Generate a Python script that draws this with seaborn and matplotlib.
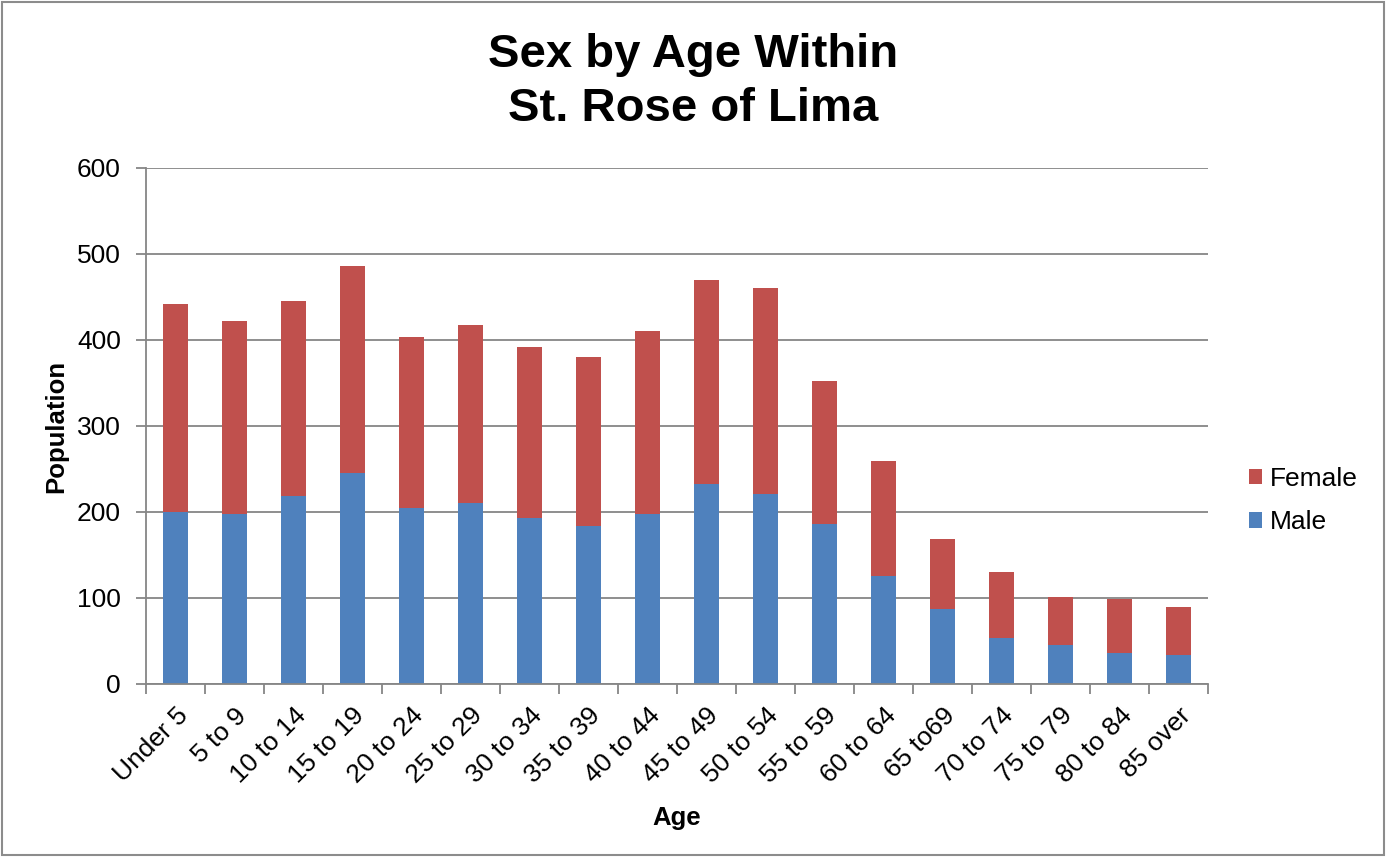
import pandas as pd
import seaborn as sns
import matplotlib.pyplot as plt
from matplotlib.patches import Rectangle

# Age groups and population
ages = ['Under 5', '5 to 9', '10 to 14', '15 to 19', '20 to 24', '25 to 29',
        '30 to 34', '35 to 39', '40 to 44', '45 to 49', '50 to 54', '55 to 59',
        '60 to 64', '65 to69', '70 to 74', '75 to 79', '80 to 84', '85 over']
male = [200, 198, 219, 245, 205, 210, 193, 184, 198, 232, 221, 186,
        126, 87, 53, 45, 36, 34]
female = [242, 224, 226, 241, 198, 207, 199, 196, 213, 238, 240, 166,
          133, 81, 77, 56, 63, 56]

df = pd.DataFrame({'Age': ages, 'Male': male, 'Female': female})
df['Total'] = df['Male'] + df['Female']

sns.set_style('white')
plt.rcParams['font.family'] = ['Liberation Sans', 'DejaVu Sans']
plt.rcParams['text.color'] = 'black'
plt.rcParams['xtick.color'] = 'black'
plt.rcParams['ytick.color'] = 'black'
plt.rcParams['axes.labelcolor'] = 'black'

blue = '#4f81bd'
red = '#c0504d'
grid = '#868686'

fig = plt.figure(figsize=(13.86, 8.57), dpi=100)
ax = fig.add_axes([0.1053, 0.2019, 0.7663, 0.6021])

# stacked: total drawn in female colour, male drawn over it
sns.barplot(data=df, x='Age', y='Total', color=red, width=0.41,
            saturation=1, ax=ax, label='Female', edgecolor='none')
sns.barplot(data=df, x='Age', y='Male', color=blue, width=0.41,
            saturation=1, ax=ax, label='Male', edgecolor='none')
handles, labels = ax.get_legend_handles_labels()
if ax.get_legend() is not None:
    ax.get_legend().remove()

ax.set_ylim(0, 600)
ax.set_xlim(-0.5, len(ages) - 0.5)
ax.set_yticks(range(0, 601, 100))
ax.yaxis.grid(True, color=grid, linewidth=1.3)
ax.set_axisbelow(True)

for s in ['top', 'right']:
    ax.spines[s].set_visible(False)
for s in ['left', 'bottom']:
    ax.spines[s].set_color(grid)
    ax.spines[s].set_linewidth(1.3)

ax.set_xticks(range(len(ages)))
ax.set_xticks([i - 0.5 for i in range(len(ages) + 1)], minor=True)
ax.tick_params(axis='x', which='major', length=0, pad=14)
ax.tick_params(axis='x', which='minor', length=7, color=grid, width=1.3,
               direction='out', bottom=True)
ax.tick_params(axis='y', length=7, color=grid, width=1.3, direction='out',
               left=True, labelsize=19, labelcolor='black', pad=11)
plt.setp(ax.get_xticklabels(), rotation=45, ha='right',
         rotation_mode='anchor', fontsize=19, color='black')

ax.set_xlabel('Age', fontsize=18.5, fontweight='bold', labelpad=13)
ax.set_ylabel('Population', fontsize=18.5, fontweight='bold', labelpad=6)

fig.text(0.5, 0.904, 'Sex by Age Within\nSt. Rose of Lima', ha='center',
         va='center', fontsize=34, fontweight='bold', linespacing=1.3)

fig.legend(handles, labels, loc='center left',
           bbox_to_anchor=(0.884, 0.416), frameon=False, fontsize=19,
           handlelength=0.5, handleheight=0.5, handletextpad=0.3,
           labelspacing=0.75)

fig.patches.append(Rectangle((0.0015, 0.002), 0.997, 0.996,
                             transform=fig.transFigure, fill=False,
                             edgecolor='#8c8c8c', linewidth=1.5))

fig.savefig('out.png', dpi=100)
